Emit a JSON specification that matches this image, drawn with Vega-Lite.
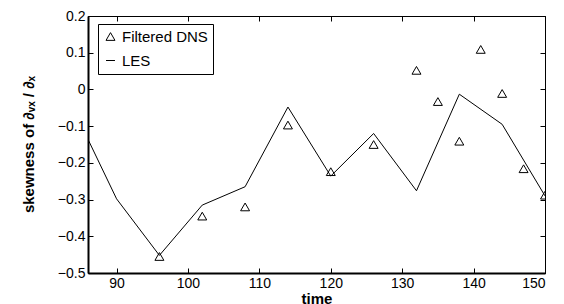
{
  "$schema": "https://vega.github.io/schema/vega-lite/v6.json",
  "width": 457,
  "height": 257,
  "autosize": {"type": "none"},
  "padding": {"left": 88, "top": 16, "right": 19, "bottom": 31},
  "background": "white",
  "config": {
    "font": "Liberation Sans",
    "view": {"stroke": "black", "strokeWidth": 1},
    "axis": {
      "grid": false,
      "domainColor": "black",
      "tickColor": "black",
      "labelColor": "black",
      "titleColor": "black",
      "labelFont": "Liberation Sans",
      "titleFont": "Liberation Sans",
      "labelFontSize": 14,
      "titleFontSize": 15,
      "titleFontWeight": "bold",
      "tickSize": -5,
      "tickWidth": 1
    }
  },
  "datasets": {
    "les": [
      {"time": 84, "value": -0.055},
      {"time": 90, "value": -0.298},
      {"time": 96, "value": -0.452},
      {"time": 102, "value": -0.315},
      {"time": 108, "value": -0.265},
      {"time": 114, "value": -0.048},
      {"time": 120, "value": -0.236},
      {"time": 126, "value": -0.12},
      {"time": 132, "value": -0.276},
      {"time": 138, "value": -0.013},
      {"time": 144, "value": -0.095},
      {"time": 150, "value": -0.29}
    ],
    "dns": [
      {"time": 96, "value": -0.455, "series": "Filtered DNS"},
      {"time": 102, "value": -0.345, "series": "Filtered DNS"},
      {"time": 108, "value": -0.32, "series": "Filtered DNS"},
      {"time": 114, "value": -0.097, "series": "Filtered DNS"},
      {"time": 120, "value": -0.224, "series": "Filtered DNS"},
      {"time": 126, "value": -0.15, "series": "Filtered DNS"},
      {"time": 132, "value": 0.052, "series": "Filtered DNS"},
      {"time": 135, "value": -0.033, "series": "Filtered DNS"},
      {"time": 138, "value": -0.141, "series": "Filtered DNS"},
      {"time": 141, "value": 0.109, "series": "Filtered DNS"},
      {"time": 144, "value": -0.011, "series": "Filtered DNS"},
      {"time": 147, "value": -0.216, "series": "Filtered DNS"},
      {"time": 150, "value": -0.288, "series": "Filtered DNS"}
    ]
  },
  "resolve": {"scale": {"x": "independent", "y": "independent"}},
  "layer": [
    {
      "data": {"name": "les"},
      "mark": {"type": "line", "color": "black", "strokeWidth": 1, "clip": true},
      "encoding": {
        "x": {
          "field": "time", "type": "quantitative",
          "scale": {"domain": [86, 150], "nice": false, "zero": false},
          "axis": {
            "orient": "bottom", "title": "time", "values": [90, 100, 110, 120, 130, 140, 150],
            "domainWidth": 2, "labelPadding": 8, "titleY": 30, "titleBaseline": "alphabetic", "titleFontSize": 15
          }
        },
        "y": {
          "field": "value", "type": "quantitative",
          "scale": {"domain": [-0.5, 0.2], "nice": false, "zero": false},
          "axis": {
            "orient": "left", "title": "skewness of ∂ᵥₓ / ∂ₓ",
            "values": [-0.5, -0.4, -0.3, -0.2, -0.1, 0, 0.1, 0.2],
            "format": ".1~f", "domainWidth": 2, "labelPadding": 8,
            "titleX": -55, "titleY": 128, "titleBaseline": "alphabetic", "titleFontSize": 15
          }
        }
      }
    },
    {
      "data": {"name": "dns"},
      "mark": {"type": "point", "filled": false, "stroke": "black", "strokeWidth": 1, "size": 80, "opacity": 1, "clip": true},
      "encoding": {
        "x": {
          "field": "time", "type": "quantitative",
          "scale": {"domain": [86, 150], "nice": false, "zero": false},
          "axis": {"orient": "top", "labels": false, "title": null, "values": [90, 100, 110, 120, 130, 140, 150], "domainWidth": 1}
        },
        "y": {
          "field": "value", "type": "quantitative",
          "scale": {"domain": [-0.5, 0.2], "nice": false, "zero": false},
          "axis": {"orient": "right", "labels": false, "title": null, "values": [-0.5, -0.4, -0.3, -0.2, -0.1, 0, 0.1, 0.2], "domainWidth": 1}
        },
        "shape": {
          "field": "series", "type": "nominal",
          "scale": {"domain": ["Filtered DNS", "LES"], "range": ["triangle-up", "stroke"]},
          "legend": {
            "title": null, "orient": "none", "legendX": 10, "legendY": 8,
            "strokeColor": "black", "fillColor": "white", "padding": 5,
            "labelFont": "Liberation Sans", "labelFontSize": 15, "labelColor": "black",
            "labelOffset": 4, "rowPadding": 8, "symbolSize": 80,
            "symbolStrokeColor": "black", "symbolStrokeWidth": 1, "symbolFillColor": "transparent"
          }
        }
      }
    }
  ]
}
